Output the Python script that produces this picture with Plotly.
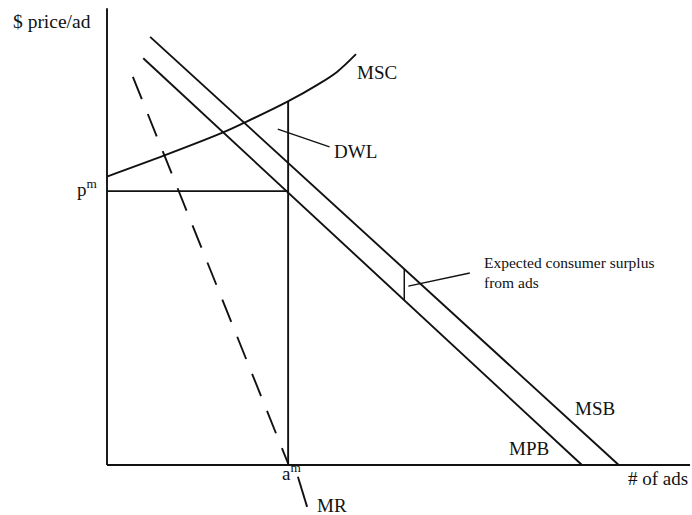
import numpy as np
import plotly.graph_objects as go

# ---- data (diagram units: quantity 0..100, price 0..100) ----
msc_x = [0, 10.1, 20.2, 24.0, 31.3, 36.5, 40.0, 43.3]
msc_y = [63.4, 68.1, 73.1, 75.3, 79.8, 83.5, 86.4, 90.3]
msb_x = [7.5, 89.0]
msb_y = [94.1, 0]
mpb_x = [6.3, 82.6]
mpb_y = [89.4, 0]
mr_x = [4.5, 31.6]
mr_y = [85.3, 0]
mr_tail_x = [33.2, 34.8]
mr_tail_y = [-2.6, -9.2]
a_m = 31.5
p_m = 60.2
cs_x = 51.7
x_axis_end = 101.4
y_axis_end = 100.4

msc_at_am = float(np.interp(a_m, msc_x, msc_y))
mpb_at_cs = mpb_y[0] + (mpb_y[1] - mpb_y[0]) * (cs_x - mpb_x[0]) / (mpb_x[1] - mpb_x[0])
msb_at_cs = msb_y[0] + (msb_y[1] - msb_y[0]) * (cs_x - msb_x[0]) / (msb_x[1] - msb_x[0])

BLACK = "#111111"
LW = 1.9
FONT = "Liberation Serif"

fig = go.Figure()

def line(x, y, dash="solid", width=LW, shape="linear"):
    fig.add_trace(go.Scatter(x=x, y=y, mode="lines",
                             line=dict(color=BLACK, width=width, dash=dash, shape=shape),
                             hoverinfo="skip", showlegend=False))

# axes
line([0, 0], [0, y_axis_end])
line([0, x_axis_end], [0, 0])
# curves
line(msc_x, msc_y, shape="spline")
line(msb_x, msb_y)
line(mpb_x, mpb_y)
line(mr_x, mr_y, dash="24px,16px")
line(mr_tail_x, mr_tail_y)
# monopoly lines
line([a_m, a_m], [0, msc_at_am])
line([0, a_m], [p_m, p_m])
# consumer surplus bracket
line([cs_x, cs_x], [mpb_at_cs, msb_at_cs], width=1.5)
# leaders
line([29.7, 38.7], [73.8, 69.9], width=1.3)
line([52.4, 63.1], [39.3, 42.2], width=1.3)

def label(text, x, y, xanchor="left", size=19, yanchor="middle"):
    fig.add_annotation(x=x, y=y, text=text, showarrow=False, xanchor=xanchor,
                       yanchor=yanchor, font=dict(family=FONT, size=size, color=BLACK))

label("$ price/ad", -2.4, 97.4, xanchor="right", size=19.5)
label("MSC", 43.1, 86.2)
label("DWL", 39.1, 68.8)
label("p<sup>m</sup>", -1.2, p_m + 0.6, xanchor="right")
label("a<sup>m</sup>", a_m + 0.6, -1.6, xanchor="center")
label("MR", 36.2, -8.8)
label("MSB", 81.0, 12.5)
label("MPB", 69.6, 3.7)
label("# of ads", x_axis_end, -2.9, xanchor="right")
fig.add_annotation(x=65.2, y=42.3, text="Expected consumer surplus<br>from ads",
                   showarrow=False, xanchor="left", yanchor="middle", align="left",
                   font=dict(family=FONT, size=15.5, color=BLACK))

fig.update_layout(
    width=692, height=515,
    margin=dict(l=0, r=0, t=0, b=0),
    paper_bgcolor="white", plot_bgcolor="white",
    xaxis=dict(range=[-18.609, 101.739], visible=False, fixedrange=True),
    yaxis=dict(range=[-10.989, 102.198], visible=False, fixedrange=True),
    showlegend=False,
)
fig.write_html("out.html", config={"displayModeBar": False},
               post_script="document.body.style.margin='0';document.body.style.overflow='hidden';")
